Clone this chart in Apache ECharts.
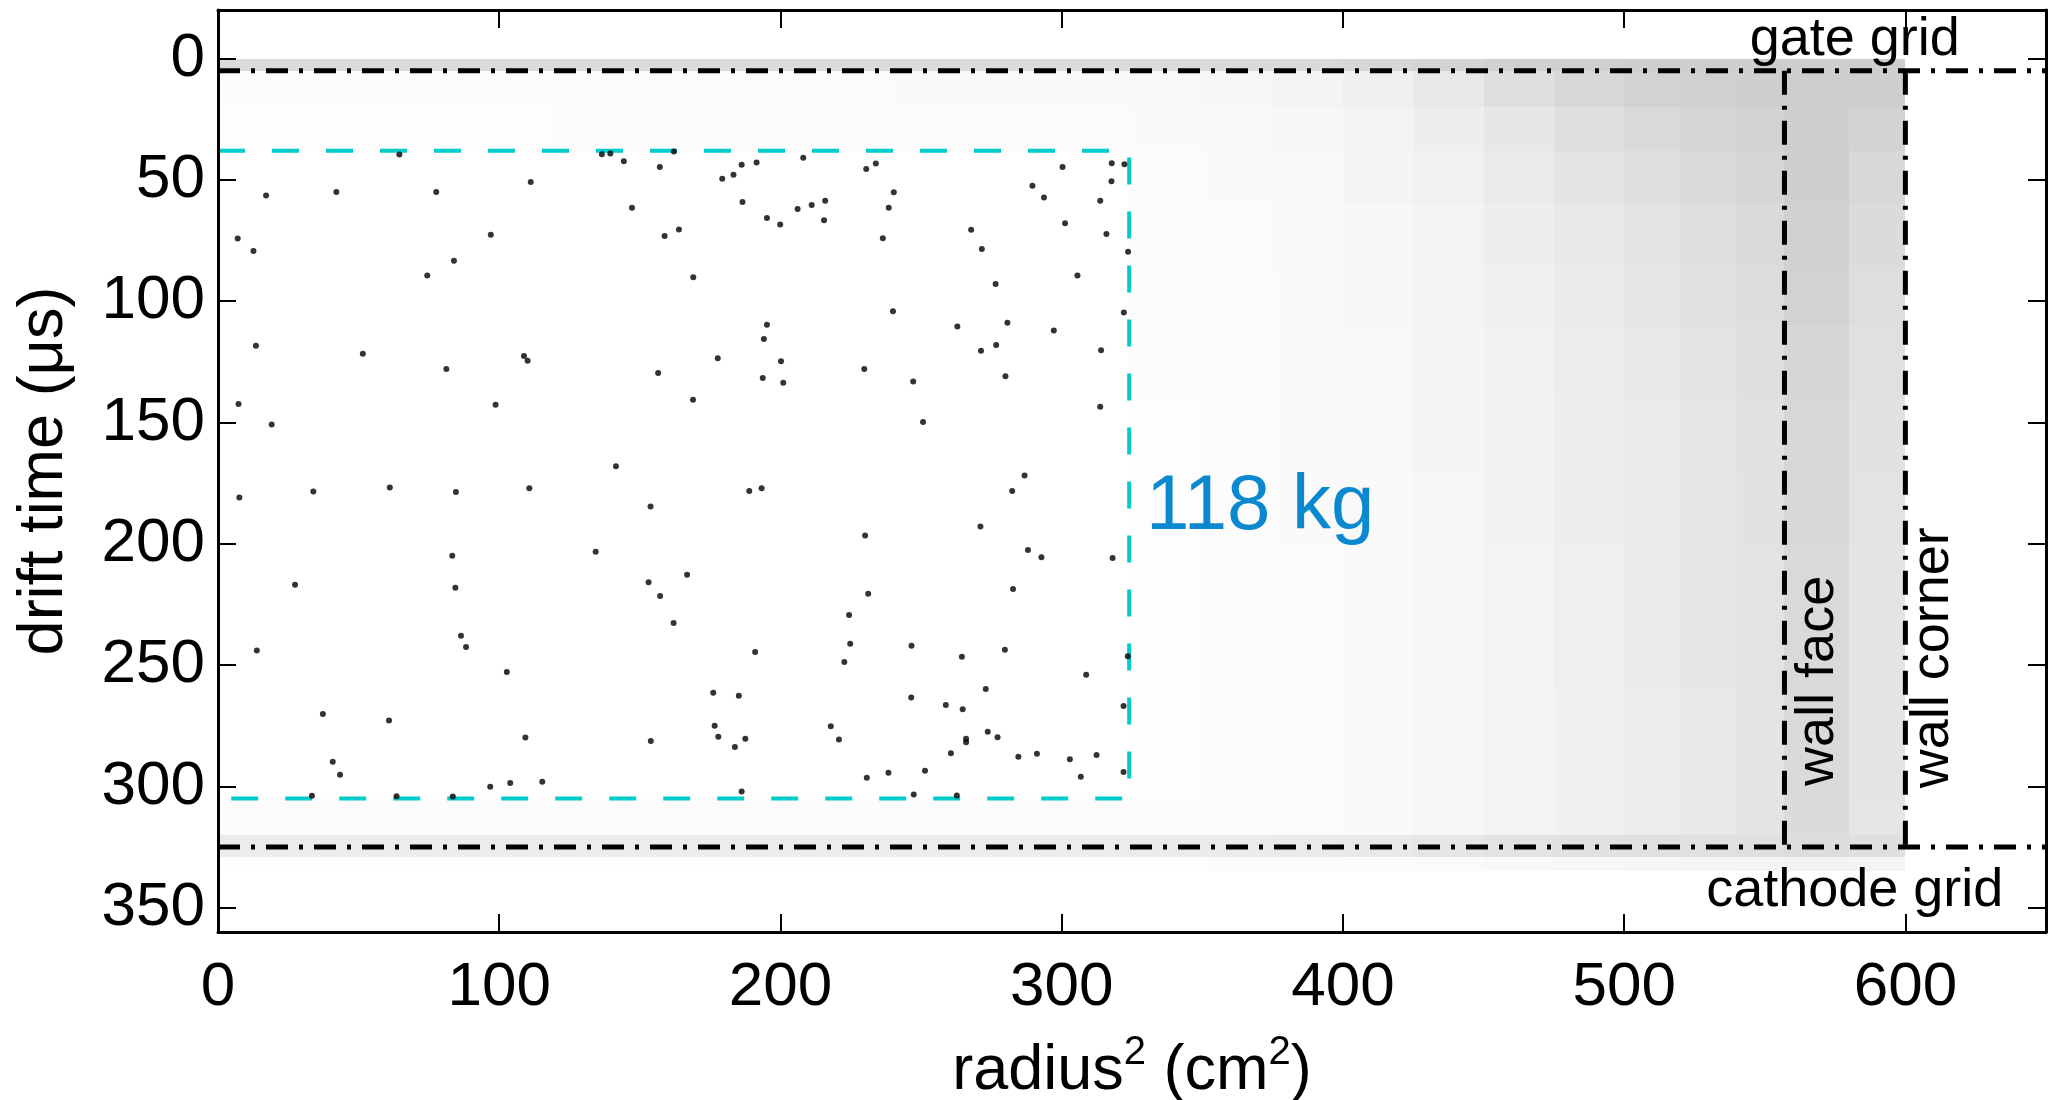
<!DOCTYPE html>
<html>
<head>
<meta charset="utf-8">
<script src="https://cdn.jsdelivr.net/npm/echarts@6/dist/echarts.min.js"></script>
<style>
  html, body { margin: 0; padding: 0; background: #fff; }
  #chart { width: 2051px; height: 1100px; }
</style>
</head>
<body>
<div id="chart"></div>
<script>
// Detector geometry: drift time in µs, radius² in cm²
const gateTime = 5;
const cathodeTime = 325;
const wallFaceR2 = 557;
const wallCornerR2 = 600;
const fiducialR2 = 324;
const fiducialTop = 38;
const fiducialBottom = 305;

const xTicks = [0, 100, 200, 300, 400, 500, 600];
const yTicks = [0, 50, 100, 150, 200, 250, 300, 350];

// Events passing all cuts inside the fiducial volume: [radius², drift time]
const fiducialEvents = [
  [64.5, 39.6], [111.2, 50.9], [17.1, 56.5], [42.1, 55.0], [77.6, 55.0], [7.0, 74.2], [12.6, 79.3],
  [97.0, 72.6], [83.9, 83.3], [74.4, 89.4], [13.5, 118.4], [51.5, 121.7], [81.2, 128.0], [108.8, 122.6],
  [110.1, 124.6], [136.5, 39.5], [139.5, 39.1], [144.3, 42.3], [162.1, 38.3], [157.1, 44.7], [186.2, 43.8],
  [191.5, 42.9], [208.1, 40.9], [179.3, 49.5], [183.3, 47.9], [147.2, 61.5], [186.5, 59.1], [195.2, 65.7],
  [199.9, 68.4], [206.1, 62.0], [211.1, 60.4], [215.9, 58.6], [215.5, 66.7], [158.8, 73.1], [163.9, 70.5],
  [169.0, 90.1], [195.2, 109.7], [194.1, 115.6], [177.7, 123.5], [200.2, 124.8], [230.5, 45.5], [233.9, 43.3],
  [300.3, 44.7], [317.8, 43.2], [322.3, 43.6], [317.7, 50.6], [240.3, 55.1], [238.5, 61.5], [289.6, 52.4],
  [293.7, 57.3], [313.7, 58.6], [301.2, 67.9], [315.9, 72.3], [267.8, 70.6], [236.4, 74.1], [271.6, 78.5],
  [323.6, 79.6], [305.6, 89.4], [276.5, 92.9], [240.0, 104.2], [322.1, 104.7], [262.9, 110.4], [280.7, 108.9],
  [297.2, 112.1], [276.7, 118.1], [271.3, 120.4], [314.0, 120.2], [229.8, 128.0], [7.3, 142.4], [98.7, 142.7],
  [19.1, 150.8], [7.6, 180.9], [33.9, 178.5], [61.1, 176.8], [84.6, 178.7], [110.7, 177.1], [83.3, 204.9],
  [27.4, 216.9], [84.4, 218.1], [156.5, 129.6], [193.7, 131.7], [201.0, 133.6], [168.9, 140.6], [141.5, 168.0],
  [188.9, 178.2], [193.3, 177.1], [153.8, 184.6], [134.3, 203.3], [166.8, 212.8], [153.1, 215.8], [157.2, 221.5],
  [247.2, 133.1], [280.0, 131.0], [313.7, 143.5], [250.7, 149.8], [286.8, 171.9], [282.4, 178.2], [271.1, 192.9],
  [230.1, 196.6], [288.0, 202.6], [292.8, 205.5], [318.1, 205.9], [231.2, 220.6], [282.7, 218.6], [13.8, 244.0],
  [86.4, 237.9], [88.2, 242.5], [102.7, 252.8], [37.3, 270.2], [60.8, 272.8], [109.3, 279.8], [40.8, 289.8],
  [43.4, 295.2], [96.8, 300.1], [103.9, 298.6], [33.4, 303.8], [63.5, 304.1], [83.5, 304.2], [162.0, 232.6],
  [191.0, 244.6], [176.1, 261.4], [185.2, 262.6], [176.6, 275.0], [177.9, 279.5], [187.5, 280.4], [183.8, 283.8],
  [153.9, 281.3], [217.9, 275.2], [220.8, 280.7], [115.3, 298.1], [186.2, 302.1], [224.4, 229.4], [224.8, 241.2],
  [222.7, 248.7], [246.6, 242.0], [264.5, 246.6], [279.8, 243.7], [308.7, 254.0], [323.5, 246.4], [246.5, 263.4],
  [258.8, 266.4], [264.8, 268.2], [273.0, 259.8], [322.0, 266.9], [273.7, 277.5], [277.2, 279.7], [266.0, 280.4],
  [266.0, 281.8], [260.6, 286.3], [284.6, 287.8], [291.2, 286.5], [302.9, 288.8], [312.4, 287.0], [230.7, 296.4],
  [238.4, 294.4], [251.4, 293.5], [306.8, 296.0], [322.0, 294.1], [247.4, 303.3], [262.7, 303.7]
];

// All events, binned in radius² and drift time; each entry is the percentage
// of the bin area covered by event markers.
const r2Edges = [0, 60, 120, 180, 240, 324, 350, 375, 400, 425, 450, 475, 500, 520, 540, 557, 580, 600];
const timeEdges = [0, 5, 20, 38, 60, 85, 110, 140, 170, 200, 230, 260, 290, 305, 320, 329, 335];
const allEventCoverage = [
  [70, 70, 70, 70, 70, 72, 72, 75, 80, 85, 92, 95, 97, 97, 97, 97, 97],
  [6, 6, 7, 7, 9, 12, 16, 22, 32, 45, 62, 78, 88, 92, 95, 97, 95],
  [4, 4, 5, 5, 7, 9, 11, 16, 24, 34, 47, 62, 74, 82, 88, 95, 86],
  [0, 0, 0, 0, 0, 6, 9, 12, 19, 28, 40, 52, 63, 72, 80, 95, 76],
  [0, 0, 0, 0, 0, 5.5, 7.5, 11, 16, 24, 34, 45, 55, 64, 72, 92, 70],
  [0, 0, 0, 0, 0, 5, 7, 10, 15, 21, 30, 40, 50, 58, 66, 88, 64],
  [0, 0, 0, 0, 0, 5, 6.5, 9.5, 14, 20, 28, 36, 45, 54, 62, 80, 60],
  [0, 0, 0, 0, 0, 4.5, 6.5, 9, 13, 19, 26, 34, 42, 51, 58, 78, 56],
  [0, 0, 0, 0, 0, 4.5, 6, 9, 12.5, 18, 25, 33, 41, 49, 56, 76, 54],
  [0, 0, 0, 0, 0, 4.5, 6, 8, 12, 17.5, 24, 31, 40, 48, 55, 75, 52],
  [0, 0, 0, 0, 0, 4.5, 6, 8, 12, 16.5, 24, 31, 39, 47, 54, 74, 52],
  [0, 0, 0, 0, 0, 4.5, 5.5, 7.5, 11, 16, 23, 30, 38, 46, 53, 74, 52],
  [0, 0, 0, 0, 0, 4.5, 5.5, 7.5, 11, 16, 23, 30, 38, 46, 53, 73, 52],
  [5, 5, 5, 5, 5.5, 5, 6.5, 8, 11, 16, 23, 30, 37, 45, 52, 70, 50],
  [38, 38, 38, 38, 38, 40, 40, 42, 46, 50, 55, 58, 60, 60, 62, 66, 62],
  [2, 2, 2, 2, 3, 4, 5, 6, 8, 10, 13, 15, 18, 20, 22, 26, 22]
];

const FONT = '"Liberation Sans", Arial, Helvetica, sans-serif';
const DOT_GREY = 204;

// Flatten the binned coverage into cells: [r2 from, r2 to, t from, t to, coverage]
const coverageCells = [];
for (let i = 0; i < timeEdges.length - 1; i++) {
  for (let j = 0; j < r2Edges.length - 1; j++) {
    const c = allEventCoverage[i][j];
    if (c > 0) coverageCells.push([r2Edges[j], r2Edges[j + 1], timeEdges[i], timeEdges[i + 1], c]);
  }
}

const chart = echarts.init(document.getElementById('chart'), null, { renderer: 'canvas' });

function guideLine(points, color, width, dash, z) {
  return {
    type: 'line', data: points, symbol: 'none', silent: true, z: z, animation: false,
    lineStyle: { color: color, width: width, type: dash, cap: 'butt' }
  };
}

function note(text, at, opt) {
  return {
    type: 'custom', silent: true, clip: false, z: 8, animation: false,
    data: [at],
    renderItem: function (params, api) {
      const p = api.coord([api.value(0), api.value(1)]);
      return {
        type: 'text', x: p[0], y: p[1], rotation: opt.rotation || 0,
        style: {
          text: text, fill: opt.color || '#000', fontSize: opt.size, fontFamily: FONT,
          align: opt.align || 'center', verticalAlign: 'middle'
        }
      };
    }
  };
}

const axisCommon = {
  z: 10,
  axisLine: { show: true, onZero: false, lineStyle: { color: '#000', width: 3 } },
  axisTick: { show: true, inside: true, length: 18, lineStyle: { color: '#000', width: 2 } },
  splitLine: { show: false }
};

const option = {
  backgroundColor: '#fff',
  animation: false,
  grid: { left: 218, right: 5, top: 10, bottom: 168, outerBoundsMode: 'none', containLabel: false },
  xAxis: [
    Object.assign({}, axisCommon, {
      type: 'value', min: 0, max: 650, position: 'bottom',
      axisTick: Object.assign({}, axisCommon.axisTick, { customValues: xTicks }),
      axisLabel: { customValues: xTicks, fontSize: 62, fontFamily: FONT, color: '#000', margin: 25 },
      name: 'radius{s|2} (cm{s|2})', nameLocation: 'middle', nameGap: 101,
      nameTextStyle: {
        fontSize: 63, fontFamily: FONT, color: '#000', lineHeight: 78,
        rich: { s: { fontSize: 40, fontFamily: FONT, color: '#000', lineHeight: 34, verticalAlign: 'top' } }
      }
    }),
    Object.assign({}, axisCommon, {
      type: 'value', min: 0, max: 650, position: 'top',
      axisTick: Object.assign({}, axisCommon.axisTick, { customValues: xTicks }),
      axisLabel: { show: false }
    })
  ],
  yAxis: [
    Object.assign({}, axisCommon, {
      type: 'value', min: -20, max: 360, inverse: true, position: 'left',
      axisTick: Object.assign({}, axisCommon.axisTick, { customValues: yTicks }),
      axisLabel: { customValues: yTicks, fontSize: 62, fontFamily: FONT, color: '#000', margin: 13 },
      name: 'drift time (μs)', nameLocation: 'middle', nameGap: 142, nameRotate: 90,
      nameTextStyle: { fontSize: 63, fontFamily: FONT, color: '#000' }
    }),
    Object.assign({}, axisCommon, {
      type: 'value', min: -20, max: 360, inverse: true, position: 'right',
      axisTick: Object.assign({}, axisCommon.axisTick, { customValues: yTicks }),
      axisLabel: { show: false }
    })
  ],
  series: [
    // all events, as binned marker coverage
    {
      type: 'custom', silent: true, z: 1, animation: false,
      encode: { x: [0, 1], y: [2, 3] },
      data: coverageCells,
      renderItem: function (params, api) {
        const a = api.coord([api.value(0), api.value(2)]);
        const b = api.coord([api.value(1), api.value(3)]);
        const x0 = Math.round(Math.min(a[0], b[0])), x1 = Math.round(Math.max(a[0], b[0]));
        const y0 = Math.round(Math.min(a[1], b[1])), y1 = Math.round(Math.max(a[1], b[1]));
        const v = Math.round(255 - (255 - DOT_GREY) * api.value(4) / 100);
        return {
          type: 'rect',
          shape: { x: x0, y: y0, width: x1 - x0, height: y1 - y0 },
          style: { fill: 'rgb(' + v + ',' + v + ',' + v + ')' }
        };
      }
    },
    // fiducial volume boundary
    guideLine([[0, fiducialTop], [fiducialR2, fiducialTop], [fiducialR2, fiducialBottom], [0, fiducialBottom]],
      '#00cccc', 4, [27, 27], 3),
    // gate and cathode grids, wall face and wall corner
    guideLine([[0, gateTime], [650, gateTime]], '#000', 5, [22, 11, 4, 11], 4),
    guideLine([[0, cathodeTime], [650, cathodeTime]], '#000', 5, [22, 11, 4, 11], 4),
    guideLine([[wallFaceR2, gateTime], [wallFaceR2, cathodeTime]], '#000', 5, [24, 11, 4, 11], 4),
    guideLine([[wallCornerR2, gateTime], [wallCornerR2, cathodeTime]], '#000', 5, [24, 11, 4, 11], 4),
    // events in the fiducial volume
    {
      type: 'scatter', data: fiducialEvents, symbol: 'circle', symbolSize: 6, silent: true, z: 5,
      animation: false, itemStyle: { color: '#000' }
    },
    note('gate grid', [582, -7.5], { size: 54 }),
    note('cathode grid', [582, 343], { size: 54 }),
    note('wall face', [569, 256.5], { size: 54, rotation: Math.PI / 2 }),
    note('wall corner', [610, 247], { size: 54, rotation: Math.PI / 2 }),
    note('118 kg', [330, 185], { size: 78, color: '#0a88d0', align: 'left' })
  ]
};

chart.setOption(option);
</script>
</body>
</html>
